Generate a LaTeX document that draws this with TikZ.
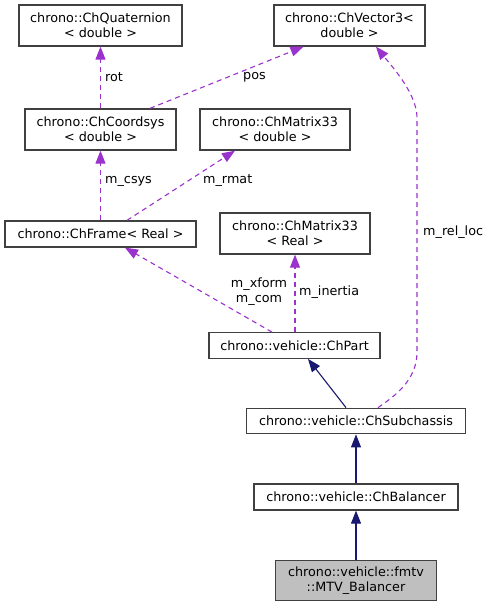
\documentclass[tikz,border=0pt]{standalone}
\usepackage{fontspec}
\setmainfont{DejaVu Sans}
\usetikzlibrary{arrows.meta}
\definecolor{edgepurple}{HTML}{9A32CD}
\definecolor{edgenavy}{HTML}{191970}
\definecolor{boxline}{HTML}{404040}
\definecolor{boxgray}{HTML}{BFBFBF}
\begin{document}
\begin{tikzpicture}[x=1pt,y=-1pt,
  cls/.style={draw=boxline,line width=1.3pt,fill=white,inner sep=0pt,align=center,
    font=\fontsize{12.75}{15}\selectfont},
  cur/.style={cls,fill=boxgray},
  member/.style={draw=edgepurple,line width=1.1pt,dash pattern=on 5pt off 4pt,
    -{Triangle[length=13pt,width=10pt,fill=edgepurple]}},
  inherit/.style={draw=edgenavy,line width=1.1pt,
    -{Triangle[length=13pt,width=10pt,fill=edgenavy]}},
  lbl/.style={inner sep=0pt,font=\fontsize{12.75}{15}\selectfont,align=center}]
\useasboundingbox (0,0) rectangle (491,607);
\fill[white] (0,0) rectangle (491,607);

\node[cls,minimum width=163pt,minimum height=41pt] (q) at (100.5,25.5) {chrono::ChQuaternion\\< double >};
\node[cls,minimum width=151pt,minimum height=41pt] (v) at (349.5,25.5) {chrono::ChVector3<\\double >};
\node[cls,minimum width=151pt,minimum height=41pt] (cs) at (100.5,129.5) {chrono::ChCoordsys\\< double >};
\node[cls,minimum width=150pt,minimum height=41pt] (md) at (275,129.5) {chrono::ChMatrix33\\< double >};
\node[cls,minimum width=191pt,minimum height=26pt] (fr) at (100.5,234) {chrono::ChFrame< Real >};
\node[cls,minimum width=150pt,minimum height=41pt] (mr) at (295,233.5) {chrono::ChMatrix33\\< Real >};
\node[cls,minimum width=171pt,minimum height=25.5pt] (part) at (294.5,345.5) {chrono::vehicle::ChPart};
\node[cls,minimum width=219pt,minimum height=25.5pt] (sub) at (356,421) {chrono::vehicle::ChSubchassis};
\node[cls,minimum width=204pt,minimum height=26pt] (bal) at (356,497) {chrono::vehicle::ChBalancer};
\node[cur,minimum width=161pt,minimum height=40pt] (mtv) at (356,580.5) {chrono::vehicle::fmtv\\::MTV\_Balancer};

% member edges
\draw[member] (cs.north) -- (q.south);
\node[lbl,anchor=west] (lrot) at (105,77) {rot};
\draw[member] ([xshift=49.5pt]cs.north) -- ([xshift=-46pt]v.south);
\node[lbl] (lpos) at (254.5,77) {pos};
\draw[member] (fr.north) -- (cs.south);
\node[lbl,anchor=west] (lcsys) at (105,181) {m\_csys};
\draw[member] ([xshift=26.5pt]fr.north) -- ([xshift=-40pt]md.south);
\node[lbl,anchor=west] (lrmat) at (203,181) {m\_rmat};
\draw[member] ([xshift=-22.5pt]part.north) -- ([xshift=24.5pt]fr.south);
\node[lbl] (lxf) at (259,291.5) {m\_xform\\m\_com};
\draw[member] ([xshift=0.5pt]part.north) -- (mr.south);
\node[lbl,anchor=west] (lin) at (299,292.5) {m\_inertia};
\draw[member] ([xshift=22pt]sub.north) .. controls (395,396) and (417,380) .. (417,352)
  -- (417,118) .. controls (417,95) and (395,70) .. ([xshift=26.5pt]v.south);
\node[lbl,anchor=west] (lrel) at (423,232.5) {m\_rel\_loc};

% inheritance edges
\draw[inherit] ([xshift=-10pt]sub.north) -- ([xshift=13.5pt]part.south);
\draw[inherit] (bal.north) -- (sub.south);
\draw[inherit] (mtv.north) -- (bal.south);
\end{tikzpicture}
\end{document}
